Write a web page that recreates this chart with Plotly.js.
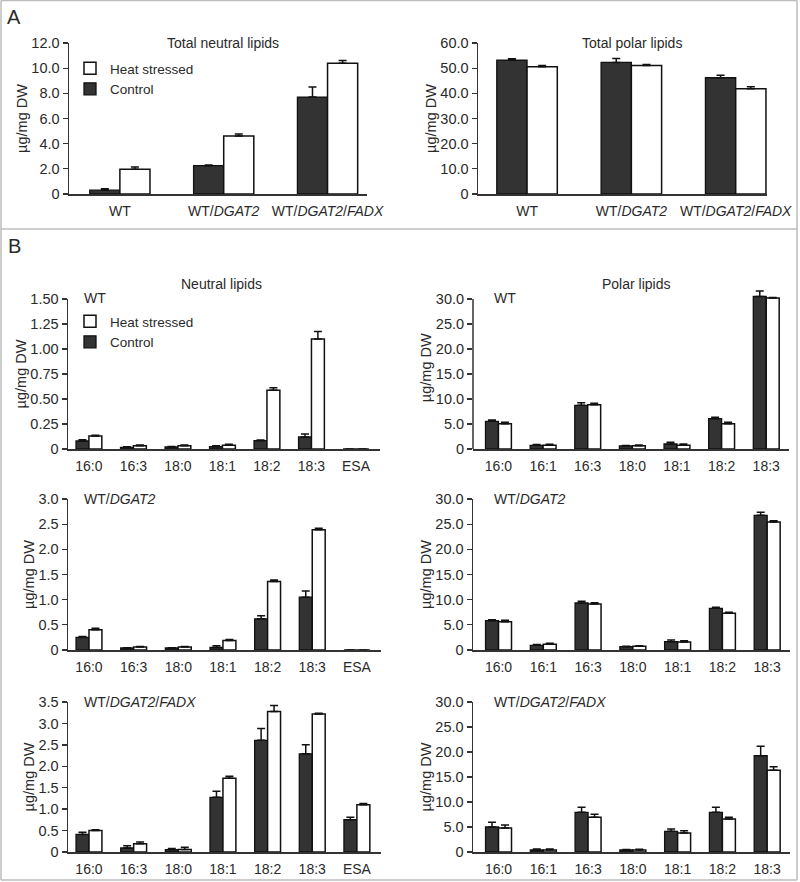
<!DOCTYPE html>
<html>
<head>
<meta charset="utf-8">
<script src="https://cdn.plot.ly/plotly-3.0.1.min.js"></script>
<style>html,body{margin:0;padding:0;background:#fff;}#chart{width:800px;height:882px;}</style>
</head>
<body>
<div id="chart"></div>
<script>
// ---------------- DATA ----------------
const genotypes = ['WT', 'WT/DGAT2', 'WT/DGAT2/FADX'];
const genotypeTickText = ['WT', 'WT/<i>DGAT2</i>', 'WT/<i>DGAT2</i>/<i>FADX</i>'];
const seriesNames = ['Control', 'Heat stressed'];

const totalNeutralControl = [0.30, 2.25, 7.70];
const totalNeutralControlErr = [0.12, 0.06, 0.80];
const totalNeutralHeat = [1.97, 4.60, 10.40];
const totalNeutralHeatErr = [0.18, 0.17, 0.20];

const totalPolarControl = [53.2, 52.3, 46.2];
const totalPolarControlErr = [0.5, 1.5, 1.0];
const totalPolarHeat = [50.6, 51.1, 41.8];
const totalPolarHeatErr = [0.5, 0.4, 0.8];

const neutralFA = ['16:0', '16:3', '18:0', '18:1', '18:2', '18:3', 'ESA'];
const polarFA = ['16:0', '16:1', '16:3', '18:0', '18:1', '18:2', '18:3'];

const wtNeutralControl = [0.08, 0.017, 0.02, 0.023, 0.083, 0.12, 0];
const wtNeutralControlErr = [0.013, 0.005, 0.005, 0.01, 0.007, 0.03, 0];
const wtNeutralHeat = [0.13, 0.033, 0.033, 0.037, 0.587, 1.10, 0];
const wtNeutralHeatErr = [0.007, 0.007, 0.007, 0.01, 0.026, 0.075, 0];

const wtPolarControl = [5.53, 0.73, 8.73, 0.60, 1.00, 6.07, 30.5];
const wtPolarControlErr = [0.27, 0.15, 0.53, 0.10, 0.33, 0.27, 1.1];
const wtPolarHeat = [5.07, 0.73, 8.87, 0.67, 0.73, 5.07, 30.2];
const wtPolarHeatErr = [0.27, 0.20, 0.27, 0.15, 0.27, 0.27, 0.1];

const dgatNeutralControl = [0.25, 0.04, 0.04, 0.05, 0.62, 1.05, 0];
const dgatNeutralControlErr = [0.02, 0.005, 0.005, 0.035, 0.06, 0.12, 0];
const dgatNeutralHeat = [0.40, 0.06, 0.06, 0.19, 1.36, 2.39, 0];
const dgatNeutralHeatErr = [0.03, 0.01, 0.01, 0.02, 0.03, 0.03, 0];

const dgatPolarControl = [5.83, 0.93, 9.34, 0.66, 1.66, 8.28, 26.75];
const dgatPolarControlErr = [0.2, 0.15, 0.33, 0.1, 0.33, 0.2, 0.6];
const dgatPolarHeat = [5.63, 1.13, 9.14, 0.73, 1.59, 7.28, 25.43];
const dgatPolarHeatErr = [0.26, 0.2, 0.26, 0.13, 0.26, 0.2, 0.27];

const fadxNeutralControl = [0.41, 0.093, 0.054, 1.275, 2.605, 2.29, 0.754];
const fadxNeutralControlErr = [0.05, 0.055, 0.026, 0.145, 0.275, 0.21, 0.056];
const fadxNeutralHeat = [0.50, 0.194, 0.06, 1.72, 3.28, 3.22, 1.104];
const fadxNeutralHeatErr = [0.02, 0.04, 0.05, 0.045, 0.14, 0.02, 0.03];

const fadxPolarControl = [5.0, 0.4, 7.93, 0.4, 4.13, 7.93, 19.27];
const fadxPolarControlErr = [0.93, 0.2, 1.0, 0.1, 0.47, 1.0, 1.86];
const fadxPolarHeat = [4.8, 0.4, 6.93, 0.4, 3.8, 6.6, 16.33];
const fadxPolarHeatErr = [0.6, 0.2, 0.6, 0.15, 0.47, 0.33, 0.74];

const tickTotalNeutralVals = [0, 2, 4, 6, 8, 10, 12];
const tickTotalNeutralText = ['0', '2.0', '4.0', '6.0', '8.0', '10.0', '12.0'];
const tickTotalPolarVals = [0, 10, 20, 30, 40, 50, 60];
const tickTotalPolarText = ['0', '10.0', '20.0', '30.0', '40.0', '50.0', '60.0'];
const tickWtNeutralVals = [0, 0.25, 0.5, 0.75, 1.0, 1.25, 1.5];
const tickWtNeutralText = ['0', '0.25', '0.50', '0.75', '1.00', '1.25', '1.50'];
const tickDgatNeutralVals = [0, 0.5, 1.0, 1.5, 2.0, 2.5, 3.0];
const tickDgatNeutralText = ['0', '0.5', '1.0', '1.5', '2.0', '2.5', '3.0'];
const tickFadxNeutralVals = [0, 0.5, 1.0, 1.5, 2.0, 2.5, 3.0, 3.5];
const tickFadxNeutralText = ['0', '0.5', '1.0', '1.5', '2.0', '2.5', '3.0', '3.5'];
const tickPolarVals = [0, 5, 10, 15, 20, 25, 30];
const tickPolarText = ['0', '5.0', '10.0', '15.0', '20.0', '25.0', '30.0'];

const yTitle = 'µg/mg DW';

// ---------------- LAYOUT HELPERS ----------------
const W = 800, H = 882;
const px = x => x / W;
const py = y => 1 - y / H;
const FONT = '"Liberation Sans", Arial, sans-serif';
const TXT = '#2a2a2a';

// panel pixel boxes [x0, x1, yTop(axis max), yBottom], x range, y axis max, optional headroom
const panels = [
  {box: [69, 367, 43, 194], xr: [-0.49, 2.38], cats: genotypes, tt: genotypeTickText, c: totalNeutralControl, ce: totalNeutralControlErr, h: totalNeutralHeat, he: totalNeutralHeatErr, yr: 12, tv: tickTotalNeutralVals, tx: tickTotalNeutralText, legend: 'legend'},
  {box: [478, 767, 43, 194], xr: [-0.47, 2.3], cats: genotypes, tt: genotypeTickText, c: totalPolarControl, ce: totalPolarControlErr, h: totalPolarHeat, he: totalPolarHeatErr, yr: 60, tv: tickTotalPolarVals, tx: tickTotalPolarText},
  {box: [68, 380, 299, 449], xr: [-0.47, 6.54], cats: neutralFA, tt: neutralFA, c: wtNeutralControl, ce: wtNeutralControlErr, h: wtNeutralHeat, he: wtNeutralHeatErr, yr: 1.5, tv: tickWtNeutralVals, tx: tickWtNeutralText, legend: 'legend2'},
  {box: [473, 789, 299, 449], xr: [-0.57, 6.51], cats: polarFA, tt: polarFA, c: wtPolarControl, ce: wtPolarControlErr, h: wtPolarHeat, he: wtPolarHeatErr, yr: 30, head: 2.5, tv: tickPolarVals, tx: tickPolarText},
  {box: [68, 381, 499, 650], xr: [-0.47, 6.54], cats: neutralFA, tt: neutralFA, c: dgatNeutralControl, ce: dgatNeutralControlErr, h: dgatNeutralHeat, he: dgatNeutralHeatErr, yr: 3.0, tv: tickDgatNeutralVals, tx: tickDgatNeutralText},
  {box: [473, 790, 499, 650], xr: [-0.57, 6.51], cats: polarFA, tt: polarFA, c: dgatPolarControl, ce: dgatPolarControlErr, h: dgatPolarHeat, he: dgatPolarHeatErr, yr: 30, tv: tickPolarVals, tx: tickPolarText},
  {box: [68, 381, 702, 852], xr: [-0.47, 6.54], cats: neutralFA, tt: neutralFA, c: fadxNeutralControl, ce: fadxNeutralControlErr, h: fadxNeutralHeat, he: fadxNeutralHeatErr, yr: 3.5, tv: tickFadxNeutralVals, tx: tickFadxNeutralText},
  {box: [473, 790, 702, 852], xr: [-0.57, 6.51], cats: polarFA, tt: polarFA, c: fadxPolarControl, ce: fadxPolarControlErr, h: fadxPolarHeat, he: fadxPolarHeatErr, yr: 30, tv: tickPolarVals, tx: tickPolarText}
];

const traces = [];
const layout = {
  width: W, height: H,
  margin: {l: 0, r: 0, t: 0, b: 0},
  paper_bgcolor: '#fff', plot_bgcolor: 'rgba(0,0,0,0)',
  font: {family: FONT, size: 14, color: TXT},
  barmode: 'group', bargap: 0.42, bargroupgap: 0,
  showlegend: true,
  annotations: [], shapes: []
};

panels.forEach((p, i) => {
  const n = i + 1;
  const xa = n === 1 ? 'x' : 'x' + n;
  const ya = n === 1 ? 'y' : 'y' + n;
  const xk = n === 1 ? 'xaxis' : 'xaxis' + n;
  const yk = n === 1 ? 'yaxis' : 'yaxis' + n;
  const [x0, x1, yt, yb] = p.box;
  const leg = p.legend;
  const head = p.head || 0;
  const pxPerUnit = (yb - yt) / p.yr;
  const yTopPx = yt - head * pxPerUnit;
  traces.push({
    type: 'bar', name: seriesNames[0], x: p.cats, y: p.c, xaxis: xa, yaxis: ya,
    marker: {color: '#333333', line: {color: '#111', width: 1.3}},
    error_y: {type: 'data', symmetric: false, array: p.ce, arrayminus: p.c.map(() => 0), color: '#111', thickness: 1.5, width: 4},
    showlegend: !!leg, legend: leg || 'legend', hoverinfo: 'skip'
  });
  traces.push({
    type: 'bar', name: seriesNames[1], x: p.cats, y: p.h, xaxis: xa, yaxis: ya,
    marker: {color: '#ffffff', line: {color: '#111', width: 1.5}},
    error_y: {type: 'data', symmetric: false, array: p.he, arrayminus: p.h.map(() => 0), color: '#111', thickness: 1.5, width: 4},
    showlegend: !!leg, legend: leg || 'legend', hoverinfo: 'skip'
  });
  layout[xk] = {
    domain: [px(x0), px(x1)], anchor: ya, type: 'category',
    categoryorder: 'array', categoryarray: p.cats,
    range: p.xr,
    tickvals: p.cats, ticktext: p.tt,
    showline: true, linecolor: '#333', linewidth: 1.5,
    ticks: 'outside', ticklen: 4, tickcolor: 'rgba(0,0,0,0)',
    showgrid: false, zeroline: false, fixedrange: true,
    tickfont: {size: 14, color: TXT}
  };
  layout[yk] = {
    domain: [py(yb), py(yTopPx)], anchor: xa,
    range: [0, p.yr + head], tickvals: p.tv, ticktext: p.tx,
    showline: head === 0, linecolor: '#333', linewidth: 1.5,
    ticks: 'outside', ticklen: 5, tickwidth: 1.3, tickcolor: '#333',
    showgrid: false, zeroline: false, fixedrange: true,
    tickfont: {size: 14.5, color: TXT},
    title: {text: yTitle, font: {size: 14.5, color: TXT}, standoff: 0}
  };
  if (head) {
    // y axis line ending at the top tick, while bars may rise above it
    layout.shapes.push({type: 'line', xref: xa + ' domain', yref: ya, x0: 0, x1: 0, y0: 0, y1: p.yr,
      line: {color: '#333', width: 1.5}});
  }
});

// legends
layout.legend = {x: px(70), y: py(53), xanchor: 'left', yanchor: 'top', traceorder: 'reversed',
  font: {size: 13.5, color: TXT}, bgcolor: 'rgba(0,0,0,0)', tracegroupgap: 0, itemclick: false};
layout.legend2 = {x: px(70), y: py(306), xanchor: 'left', yanchor: 'top', traceorder: 'reversed',
  font: {size: 13.5, color: TXT}, bgcolor: 'rgba(0,0,0,0)', tracegroupgap: 0, itemclick: false};

// text annotations
const ann = (text, x, y, size, anchor) => layout.annotations.push({
  text, x: px(x), y: py(y), xref: 'paper', yref: 'paper', showarrow: false,
  xanchor: anchor || 'center', yanchor: 'middle', font: {size, color: TXT}
});
ann('A', 14, 17, 20);
ann('B', 14, 246, 20);
ann('Total neutral lipids', 223, 43, 14);
ann('Total polar lipids', 632, 43, 14);
ann('Neutral lipids', 221, 284, 14);
ann('Polar lipids', 636, 284, 14);
ann('WT', 82, 298, 14, 'left');
ann('WT', 492, 298, 14, 'left');
ann('WT/<i>DGAT2</i>', 82, 499, 14, 'left');
ann('WT/<i>DGAT2</i>', 492, 499, 14, 'left');
ann('WT/<i>DGAT2</i>/<i>FADX</i>', 82, 702, 14, 'left');
ann('WT/<i>DGAT2</i>/<i>FADX</i>', 492, 702, 14, 'left');

// frame lines
const line = (xa, ya, xb, yb) => layout.shapes.push({type: 'line', xref: 'paper', yref: 'paper',
  x0: px(xa), y0: py(ya), x1: px(xb), y1: py(yb), line: {color: '#bdbdbd', width: 1.5}});
line(1, 0.5, 797, 0.5);
line(1, 0.5, 1, 880);
line(797, 0.5, 797, 880);
line(1, 880, 797, 880);
line(1, 229, 797, 229);

Plotly.newPlot('chart', traces, layout, {displayModeBar: false, staticPlot: true});
</script>
</body>
</html>
